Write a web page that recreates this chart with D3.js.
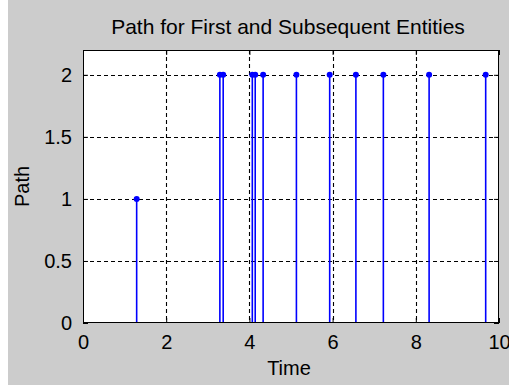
<!DOCTYPE html>
<html>
<head>
<meta charset="utf-8">
<script src="https://cdn.jsdelivr.net/npm/d3@7"></script>
<style>
  html, body { margin: 0; padding: 0; background: #ffffff; }
  svg { display: block; }
  text { font-family: "Liberation Sans", Arial, sans-serif; fill: #000; }
</style>
</head>
<body>
<script>
// ---- data ----
const times = [1.29, 3.29, 3.37, 4.07, 4.14, 4.33, 5.13, 5.93, 6.56, 7.22, 8.32, 9.68];
const paths = [1, 2, 2, 2, 2, 2, 2, 2, 2, 2, 2, 2];
const xTicks = [0, 2, 4, 6, 8, 10];
const yTicks = [0, 0.5, 1, 1.5, 2];
const xTickLabels = ["0", "2", "4", "6", "8", "10"];
const yTickLabels = ["0", "0.5", "1", "1.5", "2"];
const titleText = "Path for First and Subsequent Entities";
const xLabelText = "Time";
const yLabelText = "Path";

// ---- layout ----
const W = 509, H = 385;
const pL = 83, pR = 499, pT = 50, pB = 323;

const svg = d3.select("body").append("svg").attr("width", W).attr("height", H);
svg.append("rect").attr("x", 8).attr("y", 0).attr("width", W - 8).attr("height", H).attr("fill", "#cccccc");

const x = d3.scaleLinear().domain([0, 10]).range([pL, pR]);
const y = d3.scaleLinear().domain([0, 2.2]).range([pB, pT]);

// plot area
svg.append("rect").attr("x", pL).attr("y", pT).attr("width", pR - pL).attr("height", pB - pT).attr("fill", "#ffffff");

// grid
const grid = svg.append("g").attr("stroke", "#000").attr("stroke-width", 1.1).attr("stroke-dasharray", "4,3");
grid.selectAll("line.gx").data(xTicks.slice(1, -1)).enter().append("line")
  .attr("x1", d => Math.round(x(d)) + 0.5).attr("x2", d => Math.round(x(d)) + 0.5)
  .attr("y1", pT).attr("y2", pB);
grid.selectAll("line.gy").data(yTicks.slice(1)).enter().append("line")
  .attr("y1", d => Math.round(y(d)) + 0.5).attr("y2", d => Math.round(y(d)) + 0.5)
  .attr("x1", pL).attr("x2", pR);

// stems
const stems = svg.append("g");
stems.selectAll("line").data(times).enter().append("line")
  .attr("x1", d => x(d)).attr("x2", d => x(d))
  .attr("y1", y(0)).attr("y2", (d, i) => y(paths[i]))
  .attr("stroke", "#0000ff").attr("stroke-width", 1.6);
stems.selectAll("circle").data(times).enter().append("circle")
  .attr("cx", d => x(d)).attr("cy", (d, i) => y(paths[i]))
  .attr("r", 3).attr("fill", "#0000ff");

// axes (MATLAB-style ticks inside)
const xAxis = d3.axisBottom(x).tickValues(xTicks).tickFormat((d, i) => xTickLabels[i]).tickSize(-5).tickPadding(12);
const yAxis = d3.axisLeft(y).tickValues(yTicks).tickFormat((d, i) => yTickLabels[i]).tickSize(-5).tickPadding(11);
const xAxisTop = d3.axisTop(x).tickValues(xTicks).tickFormat("").tickSize(-5);
const yAxisRight = d3.axisRight(y).tickValues(yTicks).tickFormat("").tickSize(-5);

function style(g) {
  g.select(".domain").remove();
  g.selectAll("line").attr("stroke", "#000");
  g.selectAll("text").attr("font-size", 20).attr("font-family", "Liberation Sans, Arial, sans-serif").attr("fill", "#000");
}
svg.append("g").attr("transform", `translate(0,${pB})`).call(xAxis).call(style);
svg.append("g").attr("transform", `translate(${pL},0)`).call(yAxis).call(style);
svg.append("g").attr("transform", `translate(0,${pT})`).call(xAxisTop).call(style);
svg.append("g").attr("transform", `translate(${pR},0)`).call(yAxisRight).call(style);

// frame
svg.append("rect").attr("x", pL + 0.5).attr("y", pT + 0.5).attr("width", pR - pL - 1).attr("height", pB - pT - 1)
  .attr("fill", "none").attr("stroke", "#000").attr("stroke-width", 1);

// labels
svg.append("text").attr("x", 288).attr("y", 34).attr("text-anchor", "middle").attr("font-size", 21).text(titleText);
svg.append("text").attr("x", 289).attr("y", 375).attr("text-anchor", "middle").attr("font-size", 20).text(xLabelText);
svg.append("text").attr("transform", `translate(29,${(pT + pB) / 2}) rotate(-90)`).attr("text-anchor", "middle").attr("font-size", 20).text(yLabelText);
</script>
</body>
</html>
